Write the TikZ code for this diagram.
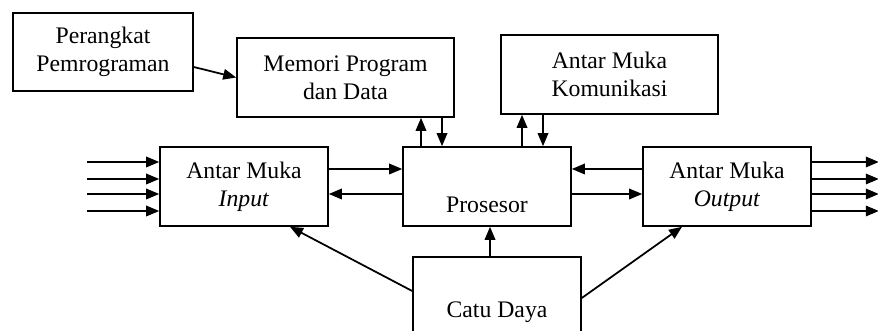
\documentclass[tikz,border=0pt]{standalone}
\usepackage{fontspec}
\setmainfont{Liberation Serif}
\usetikzlibrary{arrows.meta}

\begin{document}
\begin{tikzpicture}[
  blok/.style={draw, line width=0.9pt, align=center, minimum width=3.36cm, minimum height=1.58cm,
               font=\fontsize{13.5}{16}\selectfont},
  arrow/.style={-{Triangle[length=2.6mm, width=2.1mm]}, line width=1pt}
]
\useasboundingbox (0,0) rectangle (17.56,-6.62);
\node[blok, minimum width=3.6cm, minimum height=1.56cm] (perangkat) at (2.06,-1.04) {Perangkat\\Pemrograman};
\node[blok, minimum width=4.34cm] (memori) at (6.91,-1.55) {Memori Program\\dan Data};
\node[blok, minimum width=4.34cm] (komunikasi) at (12.19,-1.49) {Antar Muka\\Komunikasi};
\node[blok] (input) at (4.88,-3.73) {Antar Muka\\\textit{Input}};
\node[blok] (prosesor) at (9.74,-3.73) {\strut\\[2pt]Prosesor};
\node[blok] (output) at (14.54,-3.73) {Antar Muka\\\textit{Output}};
\node[blok, minimum height=2.2cm] (catu) at (9.94,-6.24) {Catu Daya};
% masukan dan keluaran
\foreach \dy in {0.49,0.15,-0.15,-0.49} {
  \draw[arrow] ([xshift=-1.44cm, yshift=\dy cm]input.west) -- ([yshift=\dy cm]input.west);
  \draw[arrow] ([yshift=\dy cm]output.east) -- ([xshift=1.34cm, yshift=\dy cm]output.east);
}
\draw[arrow] ([yshift=-0.3cm]perangkat.east) -- (memori.west);
\draw[arrow] ([xshift=-1.32cm]prosesor.north) -- ([xshift=1.51cm]memori.south);
\draw[arrow] ([xshift=1.93cm]memori.south) -- ([xshift=-0.9cm]prosesor.north);
\draw[arrow] ([xshift=0.7cm]prosesor.north) -- ([xshift=-1.75cm]komunikasi.south);
\draw[arrow] ([xshift=-1.33cm]komunikasi.south) -- ([xshift=1.12cm]prosesor.north);
\draw[arrow] ([yshift=0.35cm]input.east) -- ([yshift=0.35cm]prosesor.west);
\draw[arrow] ([yshift=-0.15cm]prosesor.west) -- ([yshift=-0.15cm]input.east);
\draw[arrow] ([yshift=0.35cm]output.west) -- ([yshift=0.35cm]prosesor.east);
\draw[arrow] ([yshift=-0.15cm]prosesor.east) -- ([yshift=-0.15cm]output.west);
% catu daya
\draw[arrow] ([yshift=0.42cm]catu.west) -- ([xshift=0.92cm]input.south);
\draw[arrow] ([xshift=-0.14cm]catu.north) -- ([xshift=0.06cm]prosesor.south);
\draw[arrow] ([yshift=0.28cm]catu.east) -- ([xshift=-0.9cm]output.south);
\end{tikzpicture}
\end{document}
